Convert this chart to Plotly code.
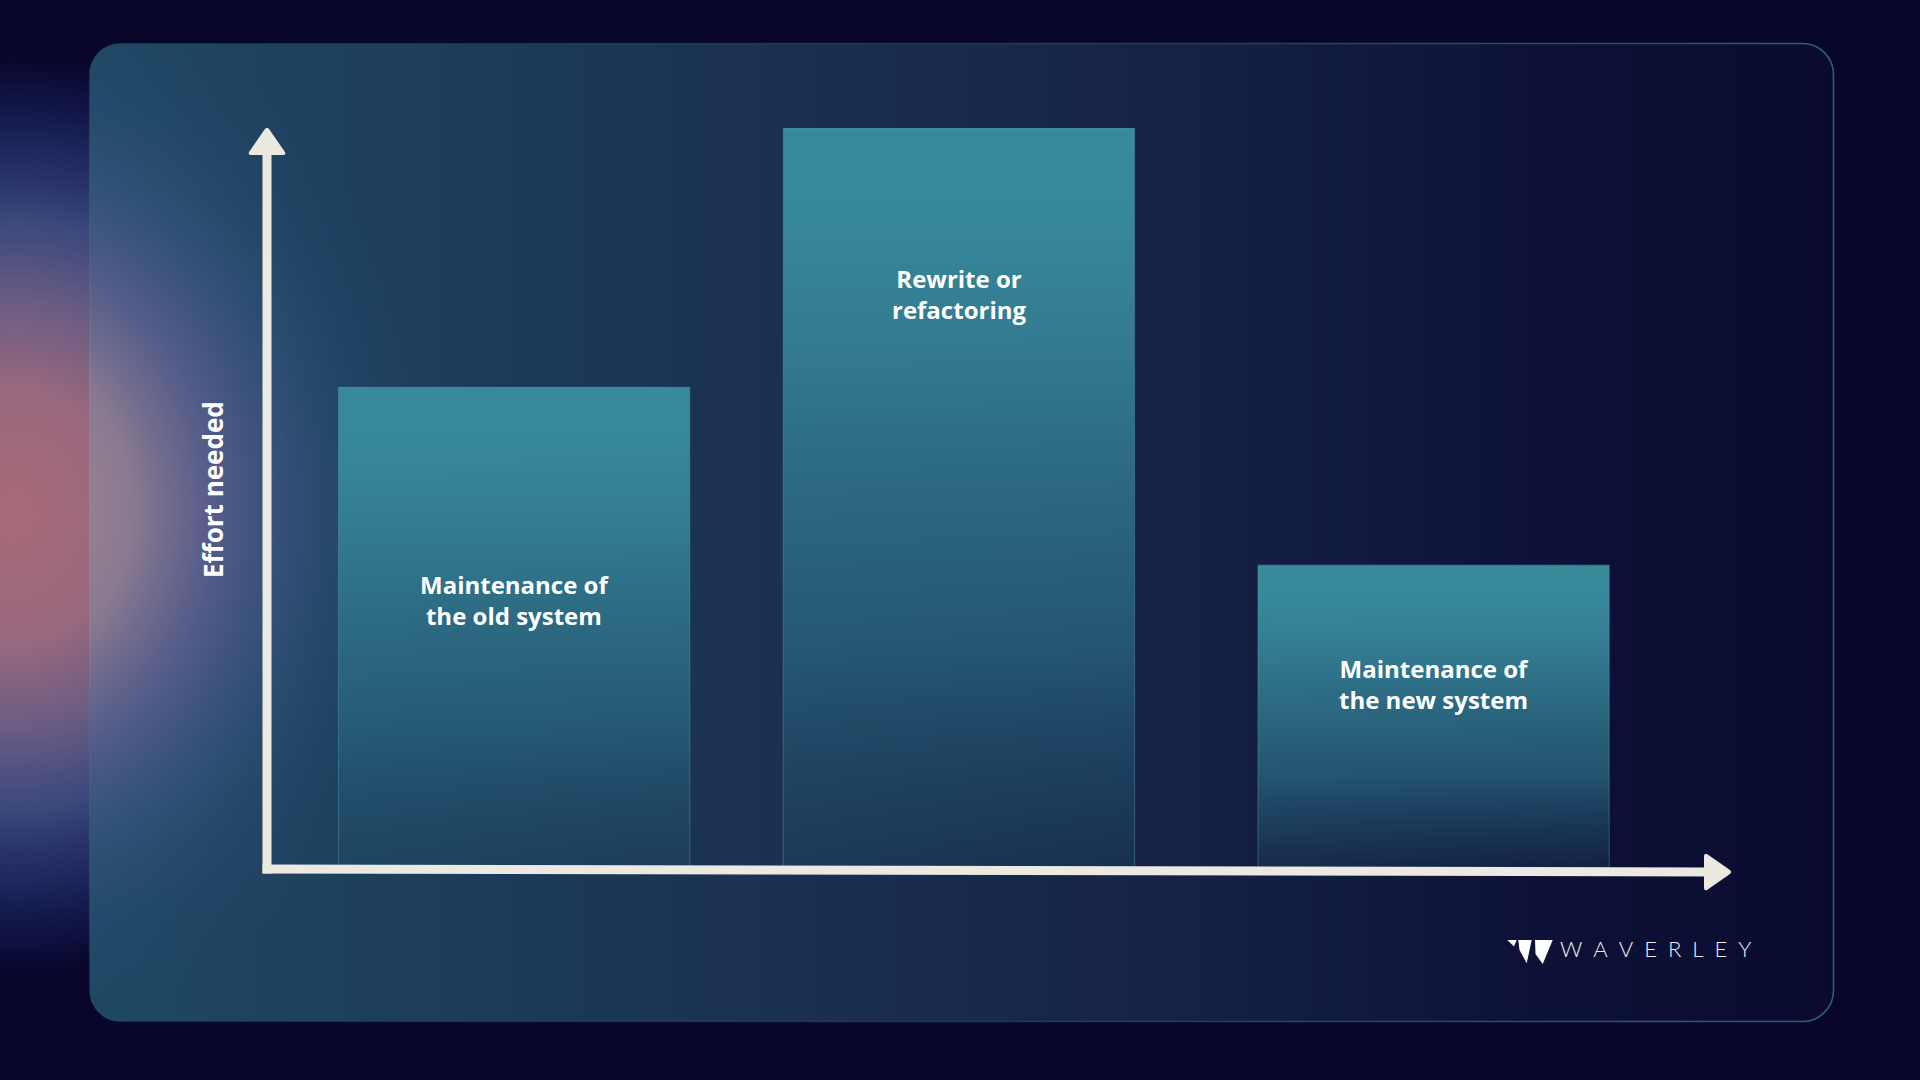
import base64
import plotly.graph_objects as go

# ---------------- data ----------------
categories = ["Maintenance of<br>the old system", "Rewrite or<br>refactoring", "Maintenance of<br>the new system"]
effort = [65, 100, 41]
axis_title = "Effort needed"
brand_name = "WAVERLEY"

# ---------------- layout constants ----------------
W, H = 1920, 1080
BAR_HALF = 0.382
BAR_SHIFT = [0.011, -0.0215, 0.011]
LABEL_FRAC = [0.558, 0.776, 0.609]
FONT = "Open Sans, Inter, Lato, sans-serif"
AXIS_COL = "#ece9e2"


def px(x, y):
    return x / W, 1 - y / H


# ---------------- background (card + glow) ----------------
svg = """<svg xmlns="http://www.w3.org/2000/svg" width="1920" height="1080" viewBox="0 0 1920 1080" preserveAspectRatio="none">
<defs>
 <linearGradient id="cg" x1="0" y1="0" x2="1" y2="0">
  <stop offset="0" stop-color="#1f4864"/>
  <stop offset="0.18" stop-color="#1d3e5c"/>
  <stop offset="0.37" stop-color="#1b3252"/>
  <stop offset="0.62" stop-color="#152246"/>
  <stop offset="0.82" stop-color="#0e1238"/>
  <stop offset="1" stop-color="#0a0a2f"/>
 </linearGradient>
 <linearGradient id="sg" x1="0" y1="0" x2="1" y2="0">
  <stop offset="0" stop-color="#2a5878" stop-opacity="0.1"/>
  <stop offset="0.5" stop-color="#2a5878" stop-opacity="0.5"/>
  <stop offset="1" stop-color="#2e5c7c" stop-opacity="1"/>
 </linearGradient>
 <radialGradient id="gl">
  <stop offset="0" stop-color="#a86a78" stop-opacity="1"/>
  <stop offset="0.28" stop-color="#98687e" stop-opacity="1"/>
  <stop offset="0.47" stop-color="#6e6088" stop-opacity="0.95"/>
  <stop offset="0.64" stop-color="#44548a" stop-opacity="0.85"/>
  <stop offset="0.8" stop-color="#283a78" stop-opacity="0.65"/>
  <stop offset="0.92" stop-color="#1a2868" stop-opacity="0.35"/>
  <stop offset="1" stop-color="#121e5c" stop-opacity="0"/>
 </radialGradient>
 <radialGradient id="gl2">
  <stop offset="0" stop-color="#c0909a" stop-opacity="0.9"/>
  <stop offset="0.3" stop-color="#a8889e" stop-opacity="0.78"/>
  <stop offset="0.5" stop-color="#7068a0" stop-opacity="0.62"/>
  <stop offset="0.7" stop-color="#405c8a" stop-opacity="0.4"/>
  <stop offset="0.86" stop-color="#30507a" stop-opacity="0.18"/>
  <stop offset="1" stop-color="#2e4c75" stop-opacity="0"/>
 </radialGradient>
 <clipPath id="cc"><rect x="89" y="43" width="1745" height="979" rx="31"/></clipPath>
</defs>
<rect width="1920" height="1080" fill="#09062c"/>
<ellipse cx="15" cy="515" rx="390" ry="460" fill="url(#gl)"/>
<rect x="89.5" y="43.5" width="1744" height="978" rx="31" fill="url(#cg)" stroke="url(#sg)" stroke-width="1.6"/>
<g clip-path="url(#cc)"><ellipse cx="0" cy="510" rx="440" ry="520" fill="url(#gl2)"/></g>
</svg>"""
bg_src = "data:image/svg+xml;base64," + base64.b64encode(svg.encode()).decode()

# ---------------- figure ----------------
fig = go.Figure()

bar_scale = [
    [0.0, "rgba(34,82,110,0.25)"],
    [0.3, "rgba(40,98,124,0.8)"],
    [0.7, "rgba(51,124,145,0.97)"],
    [0.88, "rgb(55,136,154)"],
    [1.0, "rgb(56,138,155)"],
]
for i, v in enumerate(effort):
    c = i + BAR_SHIFT[i]
    xs = [c - BAR_HALF, c + BAR_HALF, c + BAR_HALF, c - BAR_HALF, c - BAR_HALF]
    ys = [0, 0, v, v, 0]
    fig.add_trace(go.Scatter(
        x=xs, y=ys, mode="lines", fill="toself",
        line=dict(color="rgba(90,165,185,0.35)", width=1.2),
        fillgradient=dict(type="vertical", colorscale=bar_scale),
        hoverinfo="skip", showlegend=False,
    ))

annotations = []
for i, (cat, v) in enumerate(zip(categories, effort)):
    annotations.append(dict(
        x=i + BAR_SHIFT[i], y=v * LABEL_FRAC[i], xref="x", yref="y",
        text=cat, showarrow=False, xanchor="center", yanchor="middle", align="center",
        font=dict(family=FONT, size=24, color="#ffffff", weight=700),
    ))

ax, ay = px(213, 490)
annotations.append(dict(
    x=ax, y=ay, xref="paper", yref="paper", text=axis_title, textangle=-90,
    showarrow=False, xanchor="center", yanchor="middle",
    font=dict(family=FONT, size=26, color="#ffffff", weight=700),
))

bx, by = px(1655, 948)
annotations.append(dict(
    x=bx, y=by, xref="paper", yref="paper", text="\u2002".join(brand_name),
    showarrow=False, xanchor="center", yanchor="middle",
    font=dict(family="Lato, Open Sans, sans-serif", size=22, color="#e8eef2", weight=300),
))


def to_path(points, close=True):
    s = ""
    for j, (x, y) in enumerate(points):
        X, Y = px(x, y)
        s += ("M" if j == 0 else "L") + f" {X:.6f},{Y:.6f} "
    return s + ("Z" if close else "")


def rounded_poly(points, r):
    n = len(points)
    parts = []
    for k in range(n):
        p0, p1, p2 = points[k - 1], points[k], points[(k + 1) % n]

        def toward(a, b):
            dx, dy = b[0] - a[0], b[1] - a[1]
            d = (dx * dx + dy * dy) ** 0.5
            return a[0] + dx / d * r, a[1] + dy / d * r

        parts.append((toward(p1, p0), p1, toward(p1, p2)))
    s = ""
    for j, (a, c, b) in enumerate(parts):
        A, C, B = px(*a), px(*c), px(*b)
        s += ("M" if j == 0 else "L") + f" {A[0]:.6f},{A[1]:.6f} "
        s += f"Q {C[0]:.6f},{C[1]:.6f} {B[0]:.6f},{B[1]:.6f} "
    return s + "Z"


shapes = []
# y axis line
x0, y0 = px(267, 150)
x1, y1 = px(267, 873.5)
shapes.append(dict(type="line", xref="paper", yref="paper", x0=x0, y0=y0, x1=x1, y1=y1,
                   line=dict(color=AXIS_COL, width=9)))
# x axis line
x0, y0 = px(262.5, 869)
x1, y1 = px(1712, 872)
shapes.append(dict(type="line", xref="paper", yref="paper", x0=x0, y0=y0, x1=x1, y1=y1,
                   line=dict(color=AXIS_COL, width=9)))
# arrow heads
shapes.append(dict(type="path", xref="paper", yref="paper",
                   path=rounded_poly([(267, 126), (287, 155), (247, 155)], 4.5),
                   fillcolor=AXIS_COL, line=dict(width=0)))
shapes.append(dict(type="path", xref="paper", yref="paper",
                   path=rounded_poly([(1733, 872), (1704, 892), (1704, 852)], 4.5),
                   fillcolor=AXIS_COL, line=dict(width=0)))
# brand mark
for poly in [
    [(1507.3, 940), (1516.7, 940), (1514.0, 946.5)],
    [(1518.3, 940), (1531.7, 940), (1526.7, 963.3), (1519.5, 950)],
    [(1535, 940), (1552.7, 940), (1542.7, 964), (1535.5, 954)],
]:
    shapes.append(dict(type="path", xref="paper", yref="paper", path=to_path(poly),
                       fillcolor="#ffffff", line=dict(width=0)))

fig.update_layout(
    width=W, height=H, autosize=False,
    margin=dict(l=0, r=0, t=0, b=0, pad=0),
    paper_bgcolor="#09062c", plot_bgcolor="rgba(0,0,0,0)",
    xaxis=dict(range=[-0.5, 2.5], domain=[0.14542, 0.86375], visible=False, fixedrange=True),
    yaxis=dict(range=[0, 100], domain=[0.19537, 0.88148], visible=False, fixedrange=True),
    images=[dict(source=bg_src, xref="paper", yref="paper", x=0, y=1, sizex=1, sizey=1,
                 xanchor="left", yanchor="top", sizing="stretch", layer="below")],
    shapes=shapes,
    annotations=annotations,
    showlegend=False,
)

fig.write_html("out.html", config={"displayModeBar": False},
               post_script="document.body.style.margin='0px';document.body.style.overflow='hidden';")
